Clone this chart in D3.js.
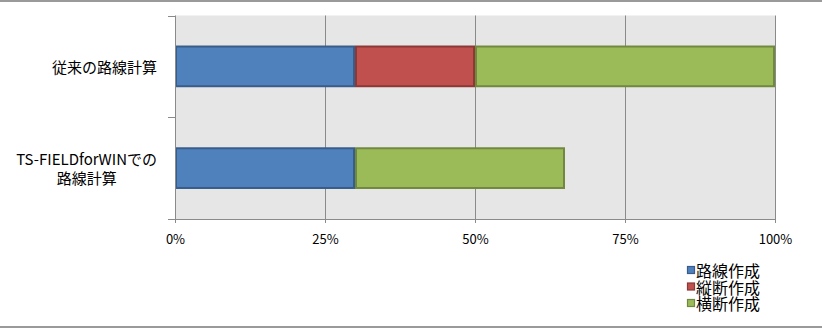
<!DOCTYPE html>
<html><head><meta charset="utf-8">
<script src="https://cdn.jsdelivr.net/npm/d3@7"></script>
<style>
html,body{margin:0;padding:0;background:#fff;}
svg{display:block;}
text{font-family:"Noto Sans CJK JP","Noto Sans",sans-serif;fill:#000;}
</style></head>
<body>
<script>
const categories = [["従来の路線計算"], ["TS-FIELDforWINでの", "路線計算"]];
const seriesNames = ["路線作成", "縦断作成", "横断作成"];
const seriesColors = ["#4f81bd", "#c0504d", "#9bbb59"];
const seriesStroke = ["#385d8a", "#8c3836", "#71893f"];
const seriesValues = [
  [30, 30],   // 路線作成
  [20, 0],    // 縦断作成
  [50, 35]    // 横断作成
];
const tickValues = [0, 25, 50, 75, 100];
const tickLabels = ["0%", "25%", "50%", "75%", "100%"];

const W = 822, H = 328;
const plot = {left: 175, right: 775, top: 15.5, bottom: 219};

const svg = d3.select("body").append("svg").attr("width", W).attr("height", H);

// frame lines
svg.append("line").attr("x1",0).attr("x2",W).attr("y1",1).attr("y2",1).attr("stroke","#9a9a9a").attr("stroke-width",2);
svg.append("line").attr("x1",0).attr("x2",W).attr("y1",327).attr("y2",327).attr("stroke","#9a9a9a").attr("stroke-width",2);

const x = d3.scaleLinear().domain([0,100]).range([plot.left, plot.right]);
const y = d3.scaleBand().domain(d3.range(categories.length))
  .range([plot.top, plot.bottom]).paddingInner(0.59).paddingOuter(0.295);
const step = y.step();

// plot background
svg.append("rect").attr("x", plot.left).attr("y", plot.top)
  .attr("width", plot.right - plot.left).attr("height", plot.bottom - plot.top)
  .attr("fill", "#e6e6e6");

// gridlines
svg.append("g").selectAll("line").data(tickValues.slice(1)).join("line")
  .attr("x1", d => Math.round(x(d)) + 0.5).attr("x2", d => Math.round(x(d)) + 0.5)
  .attr("y1", plot.top).attr("y2", plot.bottom)
  .attr("stroke", "#8a8a8a").attr("stroke-width", 1);

// stacked data
const stackData = categories.map((c, i) => {
  const o = {i};
  seriesNames.forEach((s, k) => o[s] = seriesValues[k][i]);
  return o;
});
const stacked = d3.stack().keys(seriesNames)(stackData);

const gb = svg.append("g");
stacked.forEach((layer, k) => {
  gb.selectAll(null).data(layer.filter(d => d[1] - d[0] > 0)).join("rect")
    .attr("x", d => x(d[0]) + 1)
    .attr("y", d => y(d.data.i) + 1)
    .attr("width", d => x(d[1]) - x(d[0]) - 2)
    .attr("height", y.bandwidth() - 2)
    .attr("fill", seriesColors[k])
    .attr("stroke", seriesStroke[k])
    .attr("stroke-width", 2);
});

// x axis
const xAxis = d3.axisBottom(x).tickValues(tickValues).tickFormat((d, i) => tickLabels[i])
  .tickSize(4).tickPadding(12);
const gx = svg.append("g").attr("transform", `translate(0,${plot.bottom})`).call(xAxis);
gx.select(".domain").attr("stroke", "#8a8a8a").attr("d", `M${plot.left},0.5H${plot.right}`);
gx.selectAll(".tick line").attr("stroke", "#8a8a8a");
gx.selectAll(".tick text").attr("font-size", 13).attr("font-family", "'Noto Sans','DejaVu Sans',sans-serif").attr("fill","#000");

// y axis line + ticks at band boundaries
const gy = svg.append("g");
gy.append("line").attr("x1", plot.left + 0.5).attr("x2", plot.left + 0.5)
  .attr("y1", plot.top).attr("y2", plot.bottom + 4).attr("stroke", "#8a8a8a");
const boundaries = d3.range(categories.length + 1).map(i => plot.top + i * step);
gy.selectAll(null).data(boundaries).join("line")
  .attr("x1", plot.left - 7).attr("x2", plot.left)
  .attr("y1", d => Math.round(d) + 0.5).attr("y2", d => Math.round(d) + 0.5)
  .attr("stroke", "#8a8a8a");

// y labels (block right-aligned at 157, lines centered within block)
const lineH = 18.5;
categories.forEach((lines, i) => {
  const cy = y(i) + y.bandwidth() / 2;
  const g = svg.append("g");
  const texts = lines.map((l, j) => g.append("text")
    .attr("font-size", 15)
    .attr("text-anchor", "middle")
    .attr("dominant-baseline", "central")
    .attr("y", cy + (j - (lines.length - 1) / 2) * lineH)
    .text(l));
  const widths = texts.map(t => t.node().getComputedTextLength());
  const maxW = d3.max(widths);
  texts.forEach(t => t.attr("x", 157 - maxW / 2));
});

// legend
const lg = svg.append("g").attr("transform", "translate(687,270)");
seriesNames.forEach((s, k) => {
  const row = lg.append("g").attr("transform", `translate(0,${k * 16.5})`);
  row.append("rect").attr("x", 0.5).attr("y", -3.5).attr("width", 7).attr("height", 7)
    .attr("fill", seriesColors[k]).attr("stroke", seriesStroke[k]).attr("stroke-width", 1.2);
  row.append("text").attr("x", 9).attr("y", 0).attr("dominant-baseline", "central")
    .attr("font-size", 16).text(s);
});
</script>
</body></html>
